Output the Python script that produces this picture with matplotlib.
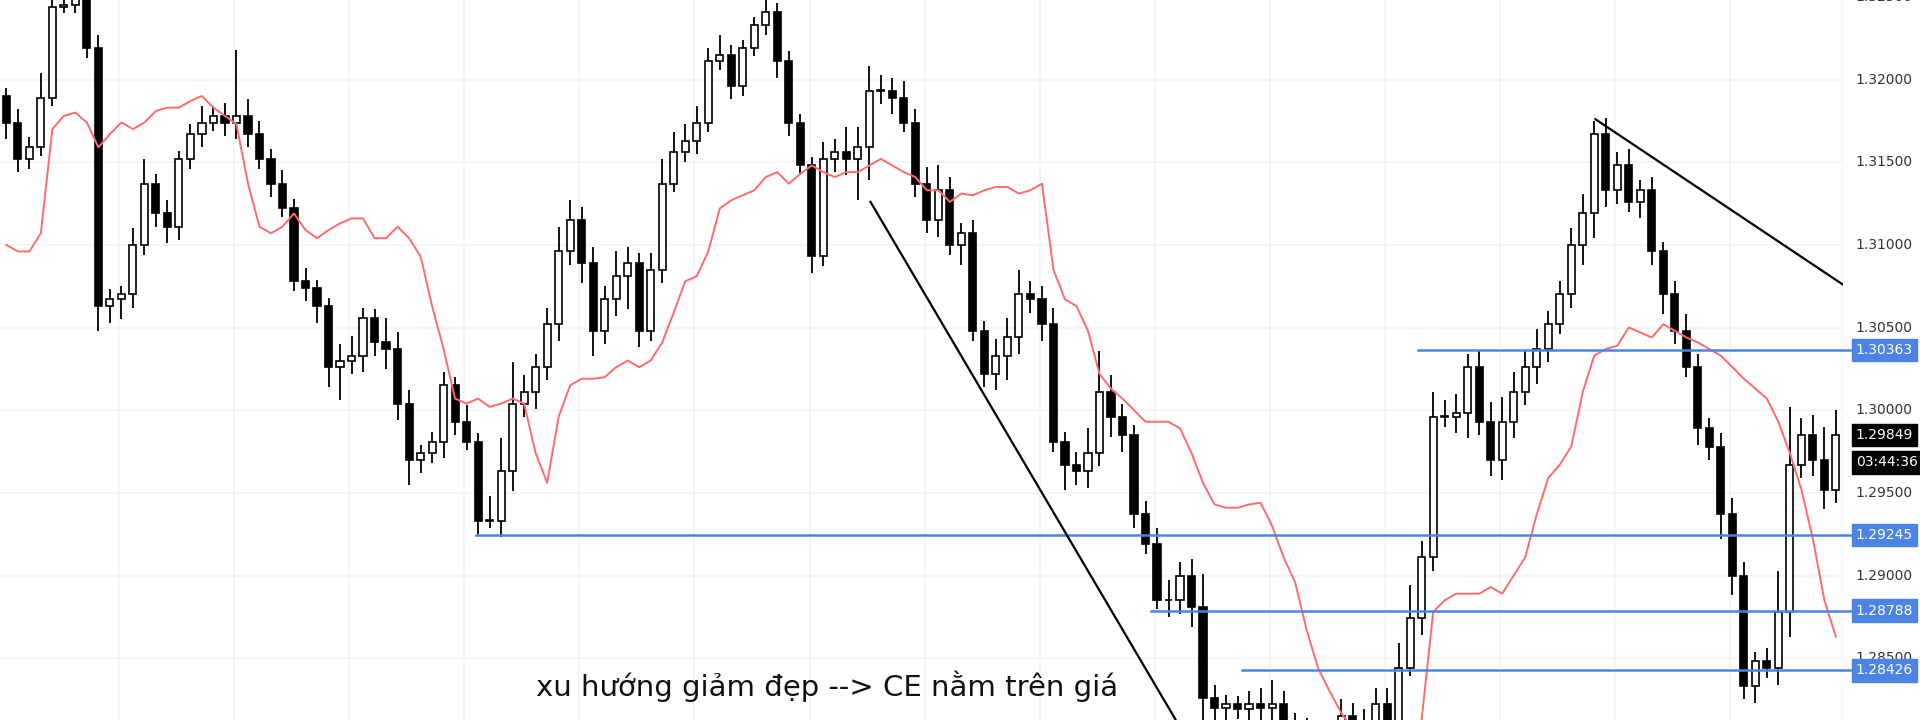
import numpy as np
import matplotlib
matplotlib.use("Agg")
import matplotlib.pyplot as plt

# ── data (GBPUSD-like, close prices) ─────────────────────────────────────────
first_open = 1.3190
closes = [
    1.3174, 1.3152, 1.3159, 1.3189, 1.3244, 1.3245, 1.3250, 1.3219, 1.3063, 1.3067,
    1.3070, 1.3100, 1.3137, 1.3119, 1.3111, 1.3152, 1.3167, 1.3174, 1.3178, 1.3174,
    1.3178, 1.3167, 1.3152, 1.3137, 1.3122, 1.3078, 1.3074, 1.3063, 1.3026, 1.3030,
    1.3033, 1.3056, 1.3041, 1.3037, 1.3004, 1.2970, 1.2974, 1.2981, 1.3015, 1.2993,
    1.2981, 1.2933, 1.2933, 1.2963, 1.3004, 1.3011, 1.3026, 1.3052, 1.3096, 1.3115,
    1.3089, 1.3048, 1.3067, 1.3081, 1.3089, 1.3048, 1.3085, 1.3137, 1.3156, 1.3163,
    1.3174, 1.3211, 1.3215, 1.3196, 1.3219, 1.3233, 1.3241, 1.3211, 1.3174, 1.3148,
    1.3093, 1.3152, 1.3156, 1.3152, 1.3159, 1.3193, 1.3193, 1.3189, 1.3174, 1.3137,
    1.3115, 1.3133, 1.3100, 1.3107, 1.3048, 1.3022, 1.3033, 1.3044, 1.3070, 1.3067,
    1.3052, 1.2981, 1.2967, 1.2963, 1.2974, 1.3011, 1.2996, 1.2985, 1.2937, 1.2919,
    1.2885, 1.2885, 1.2900, 1.2881, 1.2826, 1.2820, 1.2822, 1.2819, 1.2822, 1.2820,
    1.2822, 1.2811, 1.2804, 1.2796, 1.2800, 1.2793, 1.2815, 1.2804, 1.2796, 1.2822,
    1.2811, 1.2844, 1.2874, 1.2911, 1.2996, 1.2996, 1.2998, 1.3026, 1.2993, 1.2970,
    1.2993, 1.3011, 1.3026, 1.3037, 1.3052, 1.3070, 1.3100, 1.3119, 1.3167, 1.3133,
    1.3148, 1.3126, 1.3133, 1.3096, 1.3070, 1.3048, 1.3026, 1.2989, 1.2978, 1.2937,
    1.2900, 1.2833, 1.2848, 1.2844, 1.2878, 1.2967, 1.2985, 1.2970, 1.2952, 1.29849,
]
upper_wick_pips = [
    5, 8, 6, 15, 5, 3, 2, 4, 8, 6,
    5, 10, 15, 6, 8, 5, 6, 10, 6, 8,
    40, 10, 8, 6, 8, 6, 8, 5, 5, 10,
    12, 6, 5, 15, 10, 8, 5, 6, 8, 5,
    10, 5, 15, 20, 25, 10, 8, 10, 15, 12,
    8, 10, 8, 15, 10, 6, 10, 15, 12, 10,
    10, 8, 12, 6, 5, 5, 8, 5, 6, 5,
    5, 10, 8, 15, 12, 15, 10, 8, 10, 8,
    10, 15, 8, 6, 8, 6, 10, 12, 15, 8,
    8, 10, 6, 8, 15, 25, 10, 8, 6, 8,
    10, 12, 8, 10, 20, 8, 6, 5, 8, 10,
    15, 8, 6, 10, 8, 6, 10, 8, 15, 10,
    10, 15, 20, 10, 15, 10, 12, 8, 10, 12,
    15, 12, 10, 12, 8, 8, 10, 12, 8, 10,
    8, 10, 6, 8, 6, 8, 10, 8, 6, 8,
    10, 8, 6, 8, 25, 35, 10, 12, 20, 15,
]
lower_wick_pips = [
    10, 8, 6, 5, 5, 4, 5, 6, 15, 10,
    12, 8, 6, 8, 10, 8, 6, 8, 5, 8,
    10, 8, 6, 8, 5, 6, 8, 10, 12, 20,
    8, 10, 8, 12, 10, 15, 8, 6, 10, 8,
    5, 8, 4, 10, 12, 8, 10, 8, 10, 8,
    12, 15, 8, 10, 20, 10, 6, 8, 5, 6,
    8, 6, 5, 8, 6, 5, 6, 10, 8, 6,
    10, 6, 8, 10, 25, 20, 8, 10, 6, 8,
    8, 10, 6, 12, 6, 8, 10, 15, 10, 8,
    10, 6, 15, 8, 10, 8, 12, 10, 8, 6,
    5, 10, 8, 12, 15, 10, 8, 6, 8, 10,
    12, 8, 10, 8, 6, 10, 8, 10, 8, 6,
    8, 10, 5, 10, 8, 6, 10, 15, 8, 10,
    12, 10, 8, 10, 8, 6, 8, 12, 15, 10,
    8, 6, 10, 8, 12, 8, 6, 10, 8, 15,
    12, 8, 10, 6, 10, 15, 8, 10, 12, 8,
]
# chandelier exit line
ce_values = [
    1.3100, 1.3096, 1.3096, 1.3107, 1.3170, 1.3178, 1.3180, 1.3174, 1.3159, 1.3167,
    1.3174, 1.3170, 1.3174, 1.3181, 1.3183, 1.3183, 1.3187, 1.3190, 1.3183, 1.3178,
    1.3173, 1.3137, 1.3111, 1.3107, 1.3111, 1.3119, 1.3109, 1.3104, 1.3109, 1.3113,
    1.3116, 1.3116, 1.3104, 1.3104, 1.3111, 1.3104, 1.3093, 1.3063, 1.3037, 1.3007,
    1.3004, 1.3007, 1.3002, 1.3004, 1.3007, 1.3004, 1.2974, 1.2956, 1.2996, 1.3015,
    1.3019, 1.3019, 1.3020, 1.3026, 1.3030, 1.3026, 1.3030, 1.3041, 1.3059, 1.3078,
    1.3081, 1.3096, 1.3122, 1.3127, 1.3130, 1.3133, 1.3141, 1.3144, 1.3137, 1.3143,
    1.3148, 1.3144, 1.3141, 1.3144, 1.3144, 1.3148, 1.3152, 1.3148, 1.3144, 1.3141,
    1.3133, 1.3133, 1.3126, 1.3131, 1.3130, 1.3133, 1.3135, 1.3135, 1.3131, 1.3133,
    1.3137, 1.3085, 1.3067, 1.3063, 1.3048, 1.3022, 1.3013, 1.3007, 1.3000, 1.2993,
    1.2993, 1.2993, 1.2989, 1.2974, 1.2956, 1.2943, 1.2941, 1.2941, 1.2943, 1.2944,
    1.2930, 1.2911, 1.2896, 1.2867, 1.2844, 1.2830, 1.2817, 1.2807, 1.2804, 1.2800,
    1.2800, 1.2800, 1.2804, 1.2813, 1.2878, 1.2885, 1.2889, 1.2889, 1.2889, 1.2893,
    1.2889, 1.2900, 1.2911, 1.2937, 1.2959, 1.2967, 1.2978, 1.3011, 1.3033, 1.3037,
    1.3039, 1.3050, 1.3047, 1.3044, 1.3052, 1.3048, 1.3044, 1.3041, 1.3037, 1.3033,
    1.3026, 1.3019, 1.3013, 1.3007, 1.2993, 1.2974, 1.2952, 1.2922, 1.2885, 1.2863,
]
# horizontal levels: price, first candle index
level_prices = [1.29245, 1.28788, 1.28426, 1.30363]
level_start = [40.8, 99.5, 107.4, 122.7]
# trend lines: (x0, y0, x1, y1) in candle index / price
trend_lines = [(75.1, 1.3126, 101.6, 1.2813), (138.1, 1.3176, 159.6, 1.3076)]
tick_prices = [1.325, 1.320, 1.315, 1.310, 1.305, 1.300, 1.295, 1.290, 1.285]
last_price = 1.29849
countdown = "03:44:36"
note = "xu hướng giảm đẹp --> CE nằm trên giá"

# ── figure ───────────────────────────────────────────────────────────────────
fig = plt.figure(figsize=(19.2, 7.2), dpi=100)
ax = fig.add_axes([0, 0, 0.9598, 1])
ymin, ymax = 1.28126, 1.32481
ax.set_xlim(-0.55, 159.6)
ax.set_ylim(ymin, ymax)

grid_c = "#f0f3f8"
for gx in np.arange(9.8, 160, 10):
    ax.axvline(gx, color=grid_c, lw=1.2, zorder=0)
for gy in tick_prices:
    ax.axhline(gy, color=grid_c, lw=1.2, zorder=0)

n = len(closes)
idx = np.arange(n)
opens = [first_open] + closes[:-1]
bw = 0.62
for i in idx:
    o, c = opens[i], closes[i]
    hi = max(o, c) + upper_wick_pips[i] * 1e-4
    lo = min(o, c) - lower_wick_pips[i] * 1e-4
    ax.vlines(i, lo, hi, color="black", lw=1.3, zorder=2)
    up = c >= o
    h = max(abs(c - o), 0.00004)
    ax.add_patch(plt.Rectangle((i - bw / 2, min(o, c)), bw, h,
                               facecolor="white" if up else "black",
                               edgecolor="black", lw=1.2, zorder=3))

ax.plot(idx, ce_values, color="#ff6b6b", lw=1.4, zorder=4)

blue = "#4c84e6"
for p, s in zip(level_prices, level_start):
    ax.plot([s, 160.5], [p, p], color=blue, lw=1.8, zorder=5, clip_on=False)

for x0, y0, x1, y1 in trend_lines:
    ax.plot([x0, x1], [y0, y1], color="black", lw=1.6, zorder=5)

ax.text(46, 1.2833, note, fontsize=21, color="#111111", va="center", ha="left",
        zorder=6)

for s in ax.spines.values():
    s.set_visible(False)
ax.set_xticks([])
ax.set_yticks([])

# right price scale
lab_x = 1.007
fs = 10
for p in tick_prices:
    ax.text(lab_x, p, f"{p:.5f}", transform=ax.get_yaxis_transform(),
            fontsize=fs, color="#333333", va="center", ha="left", clip_on=False)
for p in level_prices:
    ax.text(lab_x, p, f"{p:.5f}", transform=ax.get_yaxis_transform(),
            fontsize=fs, color="white", va="center", ha="left", clip_on=False,
            bbox=dict(boxstyle="square,pad=0.3", fc=blue, ec=blue))
ax.text(lab_x, last_price, f"{last_price:.5f}", transform=ax.get_yaxis_transform(),
        fontsize=fs, color="white", va="center", ha="left", clip_on=False,
        bbox=dict(boxstyle="square,pad=0.3", fc="black", ec="black"))
ax.text(lab_x, last_price - 0.00165, countdown, transform=ax.get_yaxis_transform(),
        fontsize=fs, color="white", va="center", ha="left", clip_on=False,
        bbox=dict(boxstyle="square,pad=0.3", fc="black", ec="black"))
ax.axvline(159.6, color="#d0d4da", lw=1)

fig.savefig("out.png", dpi=100, facecolor="white")
